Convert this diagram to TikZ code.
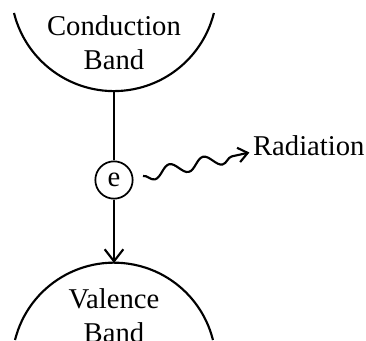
\documentclass[tikz,border=0pt]{standalone}
\usepackage{fontspec}
\setmainfont{Liberation Serif}
\usetikzlibrary{
    arrows.meta,
    decorations.pathmorphing
}

\begin{document}
\begin{tikzpicture}[x=0.75pt, y=0.75pt, line width=1.6pt,
    every node/.style={font=\fontsize{21.5}{25.5}\selectfont},
    band/.style={align=center, inner sep=0pt},
    barb/.style={-{Straight Barb[length=9pt,width=14pt]}}]

\useasboundingbox (0,0) rectangle (366,340);

% Bands
\draw (14,327) arc[start angle=194, end angle=346, radius=103];   % conduction band
\draw (15,0) arc[start angle=166, end angle=14, radius=102];      % valence band
\coordinate (cb) at (114,249);
\coordinate (vb) at (114,77);

% Labels
\node[band] (cond) at (114,297.8) {Conduction\\Band};
\node[band] (val) at (114,24.3) {Valence\\Band};

% Electron
\node[draw, circle, minimum size=28pt, inner sep=0pt, line width=1.3pt] (e) at (114,160) {e};
\draw (cb) -- (e);
\draw[barb] (e) -- (vb);

% Radiation
\coordinate (w0) at (143,164);
\node[anchor=base west, inner sep=0pt] (rad) at (252,185) {Radiation};
\draw[-{Straight Barb[length=7pt,width=11pt]}, shorten >=2pt, decorate,
      decoration={snake, mirror, segment length=26pt, amplitude=4.4pt, post length=10pt}]
    (w0) -- (rad.mid west);

\end{tikzpicture}
\end{document}
